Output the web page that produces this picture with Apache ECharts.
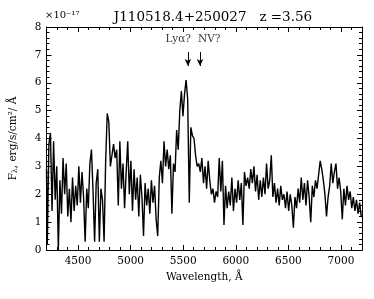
<!DOCTYPE html>
<html><head><meta charset="utf-8">
<script src="https://cdn.jsdelivr.net/npm/echarts@6/dist/echarts.min.js"></script>
<style>html,body{margin:0;padding:0;background:#fff}#c{width:374px;height:299px}</style>
</head><body><div id="c"></div>
<script>
var wavelength = [4200,4215,4230,4245,4260,4275,4290,4305,4320,4335,4350,4365,4380,4395,4410,4425,4440,4455,4470,4485,
4500,4515,4530,4545,4560,4575,4590,4605,4620,4635,4650,4665,4680,4695,4710,4725,4740,4755,4770,4785,
4800,4815,4830,4845,4860,4875,4890,4905,4920,4935,4950,4965,4980,4995,5010,5025,5040,5055,5070,5085,
5100,5115,5130,5145,5160,5175,5190,5205,5220,5235,5250,5265,5280,5295,5310,5325,5340,5355,5370,5385,
5400,5415,5430,5445,5460,5475,5490,5505,5520,5535,5550,5565,5580,5595,5610,5625,5640,5655,5670,5685,
5700,5715,5730,5745,5760,5775,5790,5805,5820,5835,5850,5865,5880,5895,5910,5925,5940,5955,5970,5985,
6000,6015,6030,6045,6060,6075,6090,6105,6120,6135,6150,6165,6180,6195,6210,6225,6240,6255,6270,6285,
6300,6315,6330,6345,6360,6375,6390,6405,6420,6435,6450,6465,6480,6495,6510,6525,6540,6555,6570,6585,
6600,6615,6630,6645,6660,6675,6690,6705,6720,6735,6750,6765,6780,6795,6810,6825,6840,6855,6870,6885,
6900,6915,6930,6945,6960,6975,6990,7005,7020,7035,7050,7065,7080,7095,7110,7125,7140,7155,7170,7185,7200];
var flux = [2.9,0.2,3.8,4.2,1.4,3.9,1.8,3.0,0.0,2.5,1.3,3.3,2.0,3.1,1.2,2.2,1.0,2.6,1.4,2.3,
1.6,3.0,1.7,2.8,1.9,0.3,2.2,1.5,3.1,3.6,2.1,0.3,2.4,2.9,0.3,2.2,1.8,0.3,3.2,4.9,
4.6,3.0,3.4,3.8,3.3,3.6,1.6,3.9,2.2,3.1,1.5,2.8,3.9,2.0,3.2,1.4,2.9,1.8,2.6,1.2,
2.7,1.9,0.5,2.4,1.6,2.2,1.3,2.5,1.7,2.3,1.1,0.5,2.6,3.2,2.4,3.9,3.0,3.6,2.9,3.4,
1.3,3.1,2.8,4.3,3.6,5.0,5.7,4.8,5.6,6.1,5.4,1.7,4.4,4.1,4.0,3.4,3.0,3.1,2.8,3.3,
2.4,3.0,2.2,3.2,2.5,2.0,2.2,1.7,2.1,1.9,3.3,2.1,3.2,0.9,2.3,1.5,2.1,1.6,2.6,1.4,
2.2,1.7,2.5,1.8,2.4,0.9,2.8,2.3,2.6,2.2,2.9,2.4,3.0,2.1,2.7,1.8,2.5,1.9,2.6,2.0,
3.1,2.2,2.5,3.4,1.9,2.4,1.7,2.2,1.6,2.3,1.8,2.0,1.5,2.1,1.4,2.0,1.6,0.8,1.9,1.5,
2.2,1.7,2.6,1.8,2.4,1.6,2.5,1.9,1.0,2.3,1.9,2.5,2.2,2.7,3.2,2.9,2.5,2.0,1.2,1.9,
2.3,3.1,2.4,2.8,3.1,2.2,2.6,2.1,1.1,2.2,1.6,2.3,1.8,2.1,1.5,1.9,1.4,1.8,1.3,1.7,1.2];
var xMajorTicks = [4500,5000,5500,6000,6500,7000];
var yTicks = [0,1,2,3,4,5,6,7,8];
var lineIds = [{name:'Lyα?', wl:5545, align:'right'},{name:'NV?', wl:5660, align:'left'}];
var arrowTop = 7.1, arrowTip = 6.6, labelY = 7.38;

var serif = 'DejaVu Serif';
var data = wavelength.map(function(w,i){return [w, flux[i]];});
var axisLine = {show:true, lineStyle:{color:'#000', width:1}};
function xAx(pos, labels, major){
  return {type:'value', min:4200, max:7200, position:pos,
    interval: major ? undefined : 100,
    axisLine: axisLine, splitLine:{show:false},
    axisTick:{show:true, inside:true, length: major?5:3, lineStyle:{color:'#000'},
      customValues: major ? xMajorTicks : undefined},
    axisLabel: labels ? {show:true, customValues:xMajorTicks, formatter:function(v){return String(v);},
      fontFamily:serif, fontSize:10.5, color:'#000', margin:6} : {show:false},
    name: labels ? 'Wavelength, Å' : '', nameLocation:'middle', nameGap:21,
    nameTextStyle:{fontFamily:serif, fontSize:10.5, color:'#000'}
  };
}
function yAx(pos, labels){
  return {type:'value', min:0, max:8, interval:1, position:pos,
    axisLine: axisLine, splitLine:{show:false},
    axisTick:{show:true, inside:true, length:5, lineStyle:{color:'#000'}},
    minorTick:{show:true, splitNumber:5, length:3, lineStyle:{color:'#000'}},
    minorSplitLine:{show:false},
    axisLabel: labels ? {show:true, customValues:yTicks, formatter:function(v){return String(v);},
      fontFamily:serif, fontSize:10.5, color:'#000', margin:5} : {show:false},
    name: labels ? '{a|F}{b|λ}{a|, erg/s/cm²/ Å}' : '', nameLocation:'middle', nameGap:27, nameRotate:90,
    nameTextStyle:{fontFamily:serif, fontSize:10.5, color:'#000', rich:{a:{fontFamily:serif,fontSize:10.5,color:'#000'}, b:{fontFamily:serif,fontSize:7.5,color:'#000',verticalAlign:'bottom', padding:[4,0,0,0]}}}
  };
}
var chart = echarts.init(document.getElementById('c'), null, {renderer:'canvas'});
chart.setOption({
  animation:false,
  backgroundColor:'#fff',
  title:{text:'J110518.4+250027   z =3.56', left:208, textAlign:'center', top:5,
    textStyle:{fontFamily:serif, fontSize:13.5, fontWeight:'normal', color:'#000'}},
  graphic:[{type:'text', left:45, top:10, style:{text:'×10⁻¹⁷', font:'10px "DejaVu Serif"', fill:'#000'}}],
  grid:{left:44, right:12, top:27, bottom:49},
  xAxis:[xAx('bottom',true,true), xAx('bottom',false,false), xAx('top',false,true), xAx('top',false,false)],
  yAxis:[yAx('left',true), yAx('right',false)],
  series:[
    {type:'line', xAxisIndex:0, yAxisIndex:0, data:data, step:'middle', showSymbol:false, symbol:'none',
     clip:true, lineStyle:{color:'#000', width:1.4},
     markLine:{silent:true, symbol:['none','arrow'], symbolSize:[5,7], lineStyle:{color:'#000', width:1, type:'solid'},
       label:{show:false},
       data: lineIds.map(function(l){return [{coord:[l.wl, arrowTop]},{coord:[l.wl, arrowTip]}];})}
    },
    {type:'scatter', xAxisIndex:0, yAxisIndex:0, symbolSize:0, silent:true,
     data: lineIds.map(function(l){return {value:[l.wl, labelY], label:{align:l.align, offset:[l.align==='right'?3:-2,0]}};}),
     label:{show:true, position:'inside', verticalAlign:'bottom', formatter:function(p){return lineIds[p.dataIndex].name;},
       fontFamily:serif, fontSize:10.5, color:'#000'}}
  ]
});
</script></body></html>
